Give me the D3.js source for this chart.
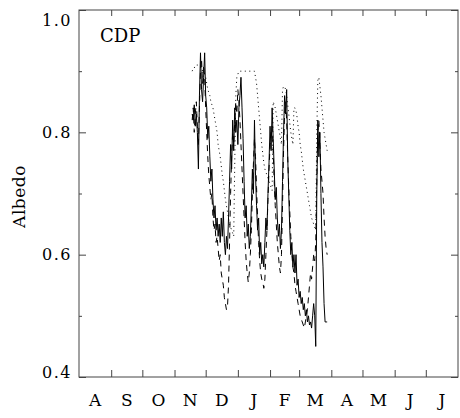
<!DOCTYPE html>
<html>
<head>
<meta charset="utf-8">
<script src="https://cdn.jsdelivr.net/npm/d3@7"></script>
<style>
  body { margin: 0; background: #fff; }
</style>
</head>
<body>
<div id="chart"></div>
<script>
const months = ['A', 'S', 'O', 'N', 'D', 'J', 'F', 'M', 'A', 'M', 'J', 'J'];
const yTicks = [0.4, 0.6, 0.8, 1.0];
const yMinor = [0.5, 0.7, 0.9];
const siteName = 'CDP';
const seasonStart = '1994-08-01';
const seriesStart = '1994-11-18';

// daily albedo from seriesStart
const solid = [
  0.83, 0.82, 0.845, 0.81, 0.83, 0.80, 0.74, 0.86, 0.93, 0.87,
  0.85, 0.89, 0.93, 0.86, 0.84, 0.79, 0.81, 0.76, 0.72, 0.74,
  0.69, 0.66, 0.68, 0.64, 0.66, 0.63, 0.65, 0.62, 0.66, 0.63,
  0.67, 0.62, 0.60, 0.63, 0.61, 0.66, 0.72, 0.78, 0.74, 0.82,
  0.77, 0.84, 0.80, 0.82, 0.78, 0.84, 0.86, 0.89, 0.84, 0.79,
  0.72, 0.66, 0.68, 0.63, 0.65, 0.61, 0.63, 0.68, 0.74, 0.70,
  0.82, 0.73, 0.68, 0.64, 0.66, 0.60, 0.62, 0.585, 0.60, 0.58,
  0.62, 0.66, 0.64, 0.70, 0.75, 0.81, 0.77, 0.84, 0.79, 0.74,
  0.69, 0.71, 0.66, 0.63, 0.65, 0.61, 0.64, 0.72, 0.80, 0.86,
  0.83, 0.87, 0.76, 0.70, 0.64, 0.60, 0.62, 0.58, 0.60, 0.57,
  0.60, 0.55, 0.56, 0.53, 0.54, 0.52, 0.53, 0.51, 0.52, 0.50,
  0.51, 0.49, 0.50, 0.485, 0.49, 0.48, 0.50, 0.52, 0.50, 0.45,
  0.70, 0.82, 0.76, 0.80, 0.70, 0.62, 0.58, 0.52, 0.49, 0.49,
  0.49
];

const dashed = [
  0.82, 0.84, 0.80, 0.83, 0.85, 0.81, 0.78, 0.84, 0.90, 0.92,
  0.88, 0.91, 0.89, 0.84, 0.80, 0.76, 0.73, 0.71, 0.69, 0.70,
  0.66, 0.64, 0.65, 0.62, 0.63, 0.61, 0.59, 0.60, 0.57, 0.56,
  0.55, 0.53, 0.52, 0.51, 0.515, 0.55, 0.62, 0.70, 0.76, 0.80,
  0.78, 0.82, 0.85, 0.83, 0.87, 0.85, 0.82, 0.78, 0.74, 0.70,
  0.66, 0.62, 0.59, 0.57, 0.555, 0.57, 0.60, 0.64, 0.70, 0.75,
  0.79, 0.76, 0.71, 0.66, 0.62, 0.59, 0.57, 0.56, 0.555, 0.545,
  0.56, 0.60, 0.64, 0.69, 0.74, 0.78, 0.80, 0.81, 0.77, 0.72,
  0.68, 0.65, 0.62, 0.60, 0.58, 0.57, 0.60, 0.68, 0.77, 0.83,
  0.85, 0.82, 0.76, 0.71, 0.67, 0.63, 0.60, 0.58, 0.57, 0.55,
  0.54, 0.53, 0.52, 0.51, 0.50, 0.495, 0.49, 0.485, 0.48, 0.49,
  0.50, 0.51, 0.53, 0.55, 0.57, 0.56, 0.58, 0.60, 0.59, 0.62,
  0.72, 0.80, 0.82, 0.78, 0.74, 0.72, 0.70, 0.66, 0.63, 0.61,
  0.60
];

const dotted = [
  0.90, 0.905, 0.905, 0.91, 0.91, 0.91, 0.91, 0.91, 0.91, 0.905,
  0.90, 0.90, 0.895, 0.89, 0.88, 0.87, 0.865, 0.86, 0.85, 0.845,
  0.84, 0.83, 0.82, 0.81, 0.80, 0.78, 0.77, 0.76, 0.745, 0.73,
  0.72, 0.705, 0.69, 0.68, 0.67, 0.66, 0.65, 0.645, 0.64, 0.635,
  0.63, 0.75, 0.86, 0.89, 0.895, 0.90, 0.90, 0.90, 0.90, 0.90,
  0.90, 0.90, 0.90, 0.90, 0.90, 0.90, 0.90, 0.90, 0.90, 0.90,
  0.90, 0.89, 0.88, 0.86, 0.84, 0.82, 0.80, 0.78, 0.765, 0.75,
  0.74, 0.735, 0.73, 0.725, 0.72, 0.715, 0.71, 0.705, 0.85, 0.845,
  0.84, 0.83, 0.82, 0.81, 0.80, 0.79, 0.78, 0.87, 0.875, 0.875,
  0.87, 0.86, 0.845, 0.83, 0.815, 0.80, 0.79, 0.78, 0.84, 0.84,
  0.835, 0.825, 0.81, 0.80, 0.78, 0.77, 0.755, 0.74, 0.73, 0.72,
  0.71, 0.70, 0.69, 0.68, 0.67, 0.66, 0.655, 0.65, 0.645, 0.64,
  0.80, 0.885, 0.89, 0.875, 0.86, 0.84, 0.82, 0.80, 0.79, 0.78,
  0.77
];

const width = 460;
const height = 418;
const margin = { top: 10, right: 2, bottom: 41, left: 79 };
const font = '"DejaVu Serif", serif';

const svg = d3.select('#chart')
  .append('svg')
  .attr('width', width)
  .attr('height', height);

// Scales
const t0 = new Date(seasonStart);
const t1 = d3.utcYear.offset(t0, 1);
const x = d3.scaleUtc().domain([t0, t1]).range([margin.left, width - margin.right]);
const y = d3.scaleLinear().domain([0.4, 1.0]).range([height - margin.bottom, margin.top]);

const monthStarts = d3.utcMonth.range(t0, t1);
const inner = monthStarts.slice(1);

// Ticks, all pointing inward
const tickGroup = (g) => g.call((s) => s.select('.domain').remove())
  .call((s) => s.selectAll('line').attr('stroke', '#444'));

svg.append('g')
  .attr('transform', `translate(0,${height - margin.bottom})`)
  .call(d3.axisBottom(x).tickValues(inner).tickSize(-7).tickFormat(''))
  .call(tickGroup);

svg.append('g')
  .attr('transform', `translate(0,${margin.top})`)
  .call(d3.axisTop(x).tickValues(inner).tickSize(-6).tickFormat(''))
  .call(tickGroup);

const yLeft = svg.append('g')
  .attr('transform', `translate(${margin.left},0)`)
  .call(d3.axisLeft(y).tickValues(yTicks).tickSize(-7).tickPadding(7)
    .tickFormat(d3.format('.1f')))
  .call(tickGroup);

yLeft.selectAll('text')
  .attr('font-family', font)
  .attr('font-size', 16)
  .attr('fill', '#000')
  .attr('letter-spacing', 1.5)
  .attr('dy', (d) => (d === 1.0 ? '0.95em' : d === 0.4 ? '0em' : '0.32em'));

svg.append('g')
  .attr('transform', `translate(${margin.left},0)`)
  .call(d3.axisLeft(y).tickValues(yMinor).tickSize(-3).tickFormat(''))
  .call(tickGroup);

svg.append('g')
  .attr('transform', `translate(${width - margin.right},0)`)
  .call(d3.axisRight(y).tickValues(yTicks).tickSize(-7).tickFormat(''))
  .call(tickGroup);

svg.append('g')
  .attr('transform', `translate(${width - margin.right},0)`)
  .call(d3.axisRight(y).tickValues(yMinor).tickSize(-3).tickFormat(''))
  .call(tickGroup);

// Frame
svg.append('rect')
  .attr('x', margin.left)
  .attr('y', margin.top)
  .attr('width', width - margin.left - margin.right)
  .attr('height', height - margin.top - margin.bottom)
  .attr('fill', 'none')
  .attr('stroke', '#444')
  .attr('stroke-width', 1);

// Month labels, centred in each month
svg.append('g')
  .selectAll('text')
  .data(monthStarts)
  .join('text')
  .attr('x', (d) => (x(d) + x(d3.utcMonth.offset(d, 1))) / 2)
  .attr('y', 406)
  .attr('text-anchor', 'middle')
  .attr('font-family', font)
  .attr('font-size', 17)
  .text((d, i) => months[i]);

// Axis label
svg.append('text')
  .attr('transform', `translate(25,${(margin.top + height - margin.bottom) / 2 + 3}) rotate(-90)`)
  .attr('text-anchor', 'middle')
  .attr('font-family', font)
  .attr('font-size', 17)
  .attr('letter-spacing', 0.5)
  .text('Albedo');

// Site label
svg.append('text')
  .attr('x', 100)
  .attr('y', 42)
  .attr('font-family', font)
  .attr('font-size', 18)
  .text(siteName);

// Series
const day0 = new Date(seriesStart);
const line = d3.line()
  .x((d, i) => x(d3.utcDay.offset(day0, i)))
  .y((d) => y(d));

const series = [
  { values: dotted, dash: '1,3.5' },
  { values: dashed, dash: '6,5' },
  { values: solid, dash: null },
];

svg.append('g')
  .selectAll('path')
  .data(series)
  .join('path')
  .attr('d', (d) => line(d.values))
  .attr('fill', 'none')
  .attr('stroke', '#000')
  .attr('stroke-width', 1)
  .attr('stroke-dasharray', (d) => d.dash);
</script>
</body>
</html>
